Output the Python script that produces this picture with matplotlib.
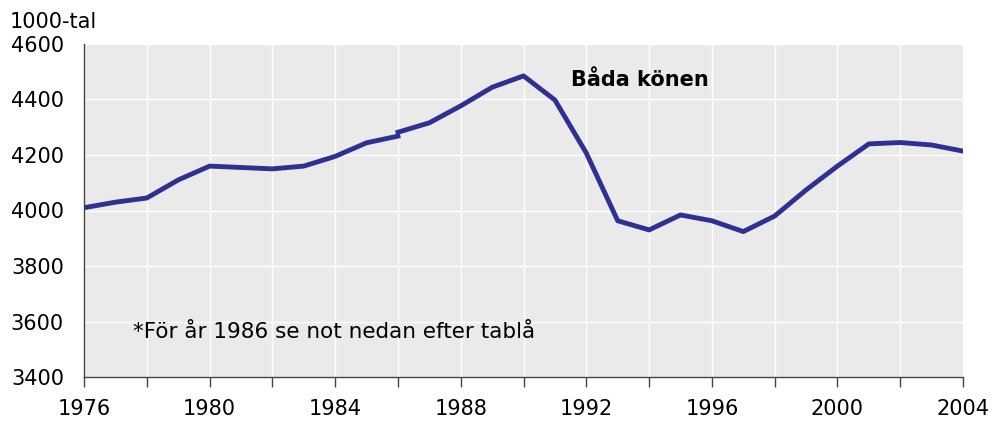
import matplotlib
matplotlib.use("Agg")
import matplotlib.pyplot as plt

# population, thousands (1986 appears twice: before/after the break)
years_a = [1976, 1977, 1978, 1979, 1980, 1981, 1982, 1983, 1984, 1985, 1986]
values_a = [4010, 4030, 4045, 4110, 4160, 4155, 4150, 4160, 4195, 4244, 4268]

years_b = [1986, 1987, 1988, 1989, 1990, 1991, 1992, 1993, 1994, 1995,
           1996, 1997, 1998, 1999, 2000, 2001, 2002, 2003, 2004]
values_b = [4282, 4316, 4377, 4444, 4485, 4398, 4207, 3963, 3930, 3984,
            3963, 3924, 3980, 4074, 4160, 4240, 4245, 4236, 4214]

x_ticks = list(range(1976, 2005, 2))
x_labels = [str(y) if (y - 1976) % 4 == 0 else "" for y in x_ticks]
y_ticks = [3400, 3600, 3800, 4000, 4200, 4400, 4600]

LINE = "#2E3192"
BG = "#EAEAEA"

plt.rcParams["font.family"] = ["DejaVu Sans"]

fig = plt.figure(figsize=(9.92, 4.21), dpi=100)
ax = fig.add_axes([0.0847, 0.1045, 0.8861, 0.791])
ax.set_facecolor(BG)

ax.plot(years_a, values_a, color=LINE, lw=3.5, solid_capstyle="projecting")
ax.plot(years_b, values_b, color=LINE, lw=3.5, solid_capstyle="projecting")

ax.set_xlim(1976, 2004)
ax.set_ylim(3400, 4600)
ax.set_xticks(x_ticks)
ax.set_xticklabels(x_labels)
ax.set_yticks(y_ticks)

ax.grid(True, color="white", lw=1)
ax.set_axisbelow(True)

for s in ["top", "right"]:
    ax.spines[s].set_visible(False)
for s in ["left", "bottom"]:
    ax.spines[s].set_color("#444444")
    ax.spines[s].set_linewidth(1)

ax.tick_params(axis="x", length=7, width=1, color="#444444", labelsize=15, pad=9)
ax.tick_params(axis="y", length=0, labelsize=15, pad=14.5)

ax.text(1991.5, 4470, "Båda könen", fontsize=15, fontweight="bold", va="center")
ax.text(1977.55, 3562, "*För år 1986 se not nedan efter tablå", fontsize=15.5, va="center")
fig.text(0.010, 0.948, "1000-tal", fontsize=15, va="center")

fig.savefig("out.png", dpi=100, facecolor="white")
